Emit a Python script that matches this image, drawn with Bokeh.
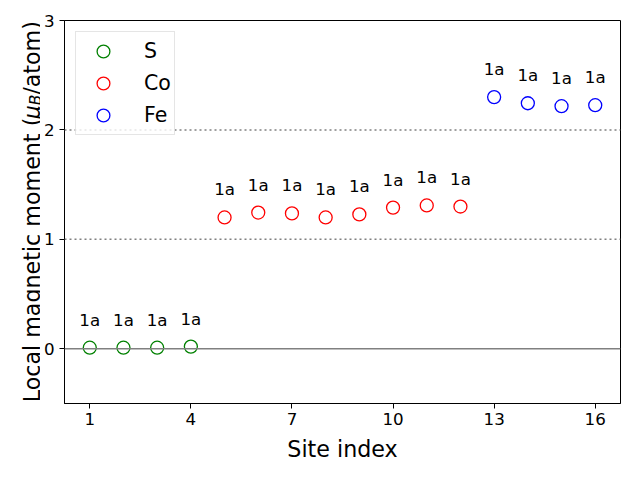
import math
from bokeh.plotting import figure
from bokeh.layouts import row
from bokeh.models import Span, FixedTicker, ColumnDataSource, Legend, LegendItem, Range1d
from bokeh.core.properties import value
from bokeh.embed import file_html
from bokeh.resources import INLINE

# --- data ---
species = ["S", "Co", "Fe"]
colors = ["green", "red", "blue"]
s_sites = [1, 2, 3, 4]
s_moments = [0.01, 0.01, 0.01, 0.02]
co_sites = [5, 6, 7, 8, 9, 10, 11, 12]
co_moments = [1.20, 1.245, 1.237, 1.20, 1.228, 1.29, 1.31, 1.30]
fe_sites = [13, 14, 15, 16]
fe_moments = [2.30, 2.244, 2.217, 2.226]
wyckoff = ["1a"] * 16
x_ticks = [1, 4, 7, 10, 13, 16]
y_ticks = [0, 1, 2, 3]
ylabel_parts = ["Local magnetic moment (", "\u03bc", "B", "/atom)"]

FONT = "DejaVu Sans"
W, H = 624, 464
LW = 40                      # width of the strip holding the y-axis title
BL, BR, BT, BB = 24, 4, 20, 58
FH = H - BT - BB

p = figure(width=W - LW, height=H, output_backend="svg", toolbar_location=None,
           x_range=(0.25, 16.75), y_range=(-0.5, 3.0),
           min_border_left=BL, min_border_right=BR, min_border_top=BT, min_border_bottom=BB)
p.background_fill_color = "white"
p.border_fill_color = "white"
p.outline_line_color = "black"
p.outline_line_width = 1
p.xgrid.visible = False
p.ygrid.visible = False

for ax in (p.xaxis[0], p.yaxis[0]):
    ax.axis_line_color = "black"
    ax.major_tick_out = 5
    ax.major_tick_in = 0
    ax.minor_tick_line_color = None
    ax.major_label_text_font = FONT
    ax.major_label_text_font_size = "16.7px"
    ax.major_label_text_color = "black"
    ax.axis_label_text_font = FONT
    ax.axis_label_text_font_size = "22.2px"
    ax.axis_label_text_font_style = "normal"
    ax.axis_label_text_color = "black"

p.xaxis.ticker = FixedTicker(ticks=x_ticks)
p.yaxis.ticker = FixedTicker(ticks=y_ticks)
p.xaxis.axis_label = "Site index"
p.xaxis.major_label_standoff = 4
p.yaxis.major_label_standoff = 5
p.xaxis.axis_label_standoff = 8

p.add_layout(Span(location=0, dimension="width", line_color="gray", line_width=1.5))
for lv in (1, 2):
    p.add_layout(Span(location=lv, dimension="width", line_color="gray",
                      line_width=1.5, line_dash="2 3"))

items = []
groups = [(s_sites, s_moments), (co_sites, co_moments), (fe_sites, fe_moments)]
k = 0
for name, col, (xs, ys) in zip(species, colors, groups):
    src = ColumnDataSource(dict(x=xs, y=ys, t=wyckoff[k:k + len(xs)]))
    k += len(xs)
    r = p.scatter("x", "y", source=src, marker="circle", size=13,
                  fill_color=None, line_color=col, line_width=1.3)
    p.text("x", "y", text="t", source=src, y_offset=-28, text_align="center",
           text_baseline="middle", text_font=value(FONT), text_font_size="16.7px",
           text_color="black")
    items.append(LegendItem(label=name, renderers=[r]))

legend = Legend(items=items, location="top_left")
legend.margin = 11
legend.padding = 3
legend.spacing = -1
legend.glyph_width = 48
legend.glyph_height = 32
legend.label_height = 32
legend.label_standoff = 17
legend.label_text_font = FONT
legend.label_text_font_size = "20.5px"
legend.label_text_color = "black"
legend.border_line_color = "#cccccc"
legend.border_line_width = 1
legend.background_fill_color = "white"
legend.background_fill_alpha = 0.8
p.add_layout(legend)

# --- y-axis title strip; its frame is aligned with the main frame (pixel units) ---
lab = figure(width=LW, height=H, output_backend="svg", toolbar_location=None,
             x_range=Range1d(0, LW), y_range=Range1d(0, FH), min_border=0)
lab.axis.visible = False
lab.grid.visible = False
lab.outline_line_color = None
lab.background_fill_color = "white"
lab.border_fill_color = "white"

FS = 22.2
widths = [12.846 * FS, 0.636 * FS, 0.686 * FS * 0.7]
total = sum(widths) + 3.318 * FS
s0 = FH / 2 - total / 2
starts = [s0, s0 + widths[0], s0 + widths[0] + widths[1], s0 + sum(widths)]
base_x = [31, 31, 35, 31]
sizes = [FS, FS, FS * 0.7, FS]
styles = ["normal", "italic", "italic", "normal"]
for txt, yy, xx, fs, st in zip(ylabel_parts, starts, base_x, sizes, styles):
    lab.text(x=[xx], y=[yy], text=[txt], angle=math.pi / 2, text_align="left",
             text_baseline="alphabetic", text_font=value(FONT),
             text_font_size=f"{fs:.1f}px", text_font_style=st, text_color="black")

layout = row(lab, p, spacing=0)
open("out.html", "w").write(file_html(layout, INLINE))
